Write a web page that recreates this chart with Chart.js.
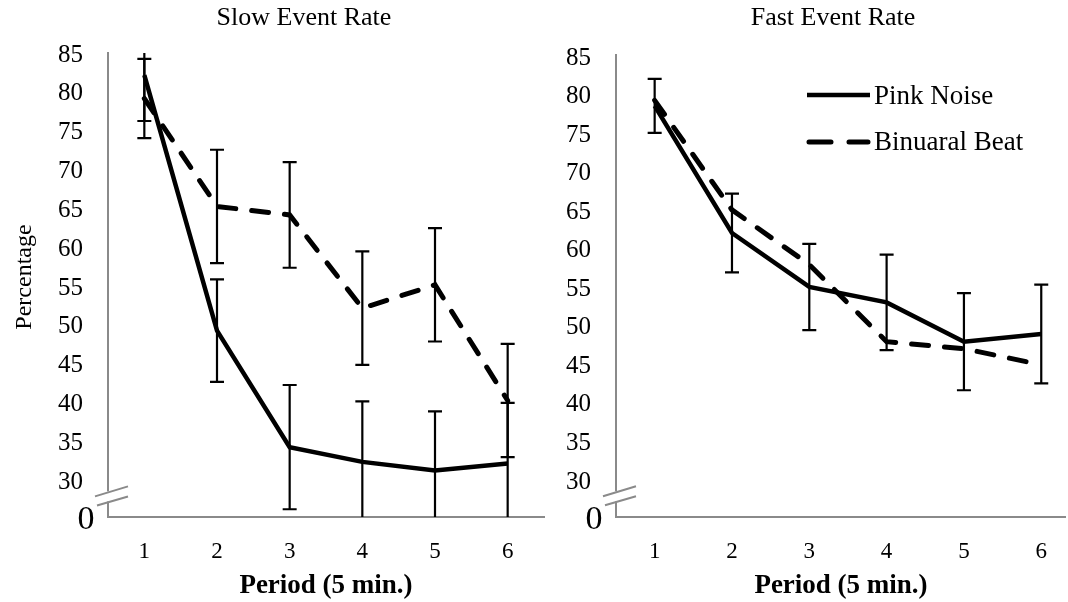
<!DOCTYPE html>
<html>
<head>
<meta charset="utf-8">
<script src="https://cdn.jsdelivr.net/npm/chart.js@4.4.1/dist/chart.umd.min.js"></script>
<style>
  html, body { margin: 0; padding: 0; background: #fff; }
  #wrap { position: relative; width: 1068px; height: 602px; overflow: hidden; }
  .panel { position: absolute; top: 0; height: 602px; }
  #slowBox { left: 0; width: 546px; }
  #fastBox { left: 546px; width: 522px; }
</style>
</head>
<body>
<div id="wrap">
  <div class="panel" id="slowBox"><canvas id="slow"></canvas></div>
  <div class="panel" id="fastBox"><canvas id="fast"></canvas></div>
</div>
<script>
const periods = [1, 2, 3, 4, 5, 6];
const yTicks = [30, 35, 40, 45, 50, 55, 60, 65, 70, 75, 80, 85];

const slowPink = [82.4, 49.5, 34.5, 32.6, 31.5, 32.4];
const slowPinkErr = [5.9, 6.6, 8.0, 7.8, 7.6, 7.8];
const slowBinaural = [79.4, 65.5, 64.4, 52.4, 55.4, 40.5];
const slowBinauralErr = [5.1, 7.3, 6.8, 7.3, 7.3, 7.3];

const fastPink = [78.8, 62.3, 55.3, 53.3, 48.2, 49.2];
const fastPinkErr = [3.5, 5.1, 5.6, 6.2, 6.3, 6.4];
const fastBinaural = [79.5, 65.3, 58.2, 48.2, 47.3, 45.2];

const serif = "'Liberation Serif', 'Times New Roman', serif";
const axisGray = "#8a8a8a";

const toPoints = (values) => values.map((y, i) => ({ x: periods[i], y }));

// vertical error bars with caps, clipped to the y range
const errorBars = {
  id: "errorBars",
  afterDatasetsDraw(chart) {
    const { ctx, scales: { x, y } } = chart;
    ctx.save();
    ctx.strokeStyle = "#000";
    ctx.lineWidth = 2.2;
    chart.data.datasets.forEach((ds) => {
      if (!ds.errors) return;
      ds.data.forEach((p, i) => {
        const px = x.getPixelForValue(p.x);
        const hi = p.y + ds.errors[i];
        const lo = p.y - ds.errors[i];
        const top = y.getPixelForValue(Math.min(hi, y.max));
        const bot = y.getPixelForValue(Math.max(lo, y.min));
        ctx.beginPath();
        ctx.moveTo(px, top);
        ctx.lineTo(px, bot);
        if (hi <= y.max) { ctx.moveTo(px - 7, top); ctx.lineTo(px + 7, top); }
        if (lo >= y.min) { ctx.moveTo(px - 7, bot); ctx.lineTo(px + 7, bot); }
        ctx.stroke();
      });
    });
    ctx.restore();
  },
};

// broken axis marks, the "0" label, panel title and optional legend
const decorations = {
  id: "decorations",
  afterDraw(chart, _args, opts) {
    const { ctx, scales: { y } } = chart;
    const ax = y.right;
    const y1 = y.getPixelForValue(28.8);
    const y2 = y.getPixelForValue(27.5);
    ctx.save();

    ctx.fillStyle = "#fff";
    ctx.fillRect(ax - 2, y1, 4, y2 - y1);
    ctx.strokeStyle = axisGray;
    ctx.lineWidth = 2;
    ctx.beginPath();
    ctx.moveTo(ax - 13, y1 + 5); ctx.lineTo(ax + 20, y1 - 5);
    ctx.moveTo(ax - 11, y2 + 4); ctx.lineTo(ax + 20, y2 - 5);
    ctx.stroke();

    ctx.fillStyle = "#000";
    ctx.textAlign = "center";
    ctx.textBaseline = "middle";
    ctx.font = `34px ${serif}`;
    ctx.fillText("0", ax - 22, y.bottom + 3);

    ctx.font = `26px ${serif}`;
    ctx.fillText(opts.title, opts.titleX, 18);

    if (opts.yTitle) {
      ctx.save();
      ctx.translate(25, 277);
      ctx.rotate(-Math.PI / 2);
      ctx.font = `24px ${serif}`;
      ctx.fillText(opts.yTitle, 0, 0);
      ctx.restore();
    }

    if (opts.legend) {
      const lx = opts.legend.x;
      const ly = opts.legend.y;
      ctx.strokeStyle = "#000";
      ctx.lineWidth = 4.5;
      ctx.beginPath();
      ctx.moveTo(lx, ly); ctx.lineTo(lx + 63, ly);
      ctx.stroke();
      ctx.lineWidth = 5;
      ctx.lineCap = "round";
      ctx.beginPath();
      ctx.moveTo(lx + 2, ly + 47); ctx.lineTo(lx + 24, ly + 47);
      ctx.moveTo(lx + 42, ly + 47); ctx.lineTo(lx + 61, ly + 47);
      ctx.stroke();
      ctx.textAlign = "left";
      ctx.font = `27px ${serif}`;
      ctx.fillText("Pink Noise", lx + 67, ly + 2);
      ctx.fillText("Binuaral Beat", lx + 67, ly + 48);
    }
    ctx.restore();
  },
};

const makeChart = (id, cfg) => new Chart(document.getElementById(id), {
  type: "line",
  data: {
    datasets: [
      {
        label: "Pink Noise",
        data: toPoints(cfg.pink),
        errors: cfg.pinkErr,
        borderColor: "#000",
        borderWidth: 4.5,
        pointRadius: 0,
        tension: 0,
      },
      {
        label: "Binuaral Beat",
        data: toPoints(cfg.binaural),
        errors: cfg.binauralErr,
        borderColor: "#000",
        borderWidth: 5,
        borderDash: [17, 16],
        borderCapStyle: "round",
        pointRadius: 0,
        tension: 0,
      },
    ],
  },
  options: {
    responsive: true,
    maintainAspectRatio: false,
    animation: false,
    layout: { padding: { top: cfg.top, right: cfg.right, left: 0, bottom: 0 } },
    plugins: {
      legend: { display: false },
      tooltip: { enabled: false },
      decorations: cfg.deco,
    },
    scales: {
      x: {
        type: "linear",
        min: 0.5,
        max: cfg.xMax,
        afterBuildTicks: (scale) => { scale.ticks = periods.map((v) => ({ value: v })); },
        afterFit: (scale) => { scale.height = 85; },
        grid: { display: false, drawTicks: false },
        border: { color: axisGray, width: 2 },
        ticks: {
          color: "#000",
          padding: 21,
          font: { family: serif, size: 23 },
          callback: (v) => String(v),
        },
        title: {
          display: true,
          text: "Period (5 min.)",
          color: "#000",
          font: { family: serif, size: 27, weight: "bold" },
          padding: { top: 0, bottom: 0 },
        },
      },
      y: {
        min: cfg.yMin,
        max: cfg.yMax,
        afterBuildTicks: (scale) => { scale.ticks = yTicks.map((v) => ({ value: v })); },
        afterFit: (scale) => { scale.width = cfg.axisX; },
        grid: { display: false, drawTicks: false },
        border: { color: axisGray, width: 2 },
        ticks: {
          color: "#000",
          padding: 25,
          font: { family: serif, size: 25 },
        },
      },
    },
  },
  plugins: [errorBars, decorations],
});

makeChart("slow", {
  pink: slowPink, pinkErr: slowPinkErr,
  binaural: slowBinaural, binauralErr: slowBinauralErr,
  top: 53, right: 2, xMax: 6.5, yMin: 25.5, yMax: 85.26, axisX: 108,
  deco: { title: "Slow Event Rate", titleX: 304, yTitle: "Percentage" },
});

makeChart("fast", {
  pink: fastPink, pinkErr: fastPinkErr,
  binaural: fastBinaural, binauralErr: null,
  top: 55, right: 0, xMax: 6.32, yMin: 25.46, yMax: 85.39, axisX: 70,
  deco: { title: "Fast Event Rate", titleX: 287, legend: { x: 261, y: 95 } },
});
</script>
</body>
</html>
